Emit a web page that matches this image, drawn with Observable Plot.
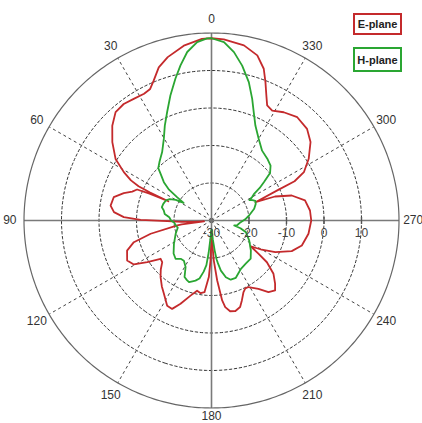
<!DOCTYPE html>
<html><head><meta charset="utf-8">
<script src="https://cdn.jsdelivr.net/npm/d3@7"></script>
<script src="https://cdn.jsdelivr.net/npm/@observablehq/plot@0.6"></script>
<style>
body{margin:0;background:#fff;}
#wrap{position:relative;width:422px;height:423px;overflow:hidden;}
.leg{position:absolute;left:353px;width:49px;border:2px solid;font:bold 11px "Liberation Sans",Arial,sans-serif;color:#222;display:flex;align-items:center;justify-content:center;box-sizing:border-box;background:#fff;}
</style></head><body><div id="wrap"></div>
<script>
// E-plane pattern (angle in degrees, gain in dB)
const eAngle = [0,3,9,15,19,22.4,25,28,32.6,37,41.5,46.3,51.7,57.3,61.1,63.5,64.8,65.5,66,66.6,67.4,70,72.7,76.6,81.6,85.1,87.8,89.5,90.9,92.5,94.5,96,97.5,98.3,102.3,105.6,109.6,115.4,119.5,122.9,126.9,130.2,134,138,143,147,152.5,156,159.6,164.4,168.4,171.5,174.4,177.3,178.6,179.6,180.3,181.2,183.3,185.4,187.6,189,191.6,194.6,198.3,200.8,204.1,206.5,209.1,214.5,218.5,222.3,225.2,229.3,233,234.7,236.7,239.8,243.6,249.1,254.5,262.2,270,275.8,282.1,287.3,290.7,292.6,294.6,295.3,297.6,302.4,308.4,313.8,320.3,326.3,331.1,334.2,336.3,338.7,341,344.5,349.5,356.1,360];
const eDb = [18.6,18.5,17.2,15.1,13.2,10.4,8.7,8.3,8.5,8.9,8.6,6.6,3.7,0.4,-3.3,-6,-8.5,-12,-17.4,-12,-8.5,-7.5,-5.5,-3.2,-2.8,-3.9,-6.6,-11.1,-18.2,-22,-25.5,-28,-22,-20.8,-13.4,-8.5,-6.1,-5.1,-6.2,-9.6,-13,-12.8,-11.2,-9.7,-8,-6.7,-4.4,-4.2,-6.3,-9.2,-10.9,-10.4,-10.8,-14.9,-19.3,-25,-27,-25,-19.3,-14,-8.5,-6.6,-5.3,-5,-5.7,-7.2,-9.1,-9.8,-9.7,-7.9,-5.6,-4.8,-6.1,-8.2,-11.5,-14.6,-17.5,-14.5,-11,-7.1,-5,-3.9,-3.4,-3.6,-4.5,-7.6,-11.9,-17.3,-10.7,-5.5,-2.2,0.7,3.7,5.3,5.8,4.7,3.5,4.1,6.4,9.6,12.8,15.7,17.5,18.4,18.6];
// H-plane pattern
const hAngle = [0,1.4,4.6,8.2,11.3,14.3,18.2,22.3,26.2,30.3,35.8,41.2,45.5,47.5,51.2,54,56,57.6,60,63,66.3,71,75,78.1,82,85.5,90,93,98,102,110.4,121.9,131,136.8,141.2,145.5,150.9,154.5,157.6,160,162.6,165.1,168.3,171.3,173.5,175,176.5,178.5,181.5,184,186,187.5,188.5,190.6,194.2,198,203,207,211.3,218.4,225.7,232.7,242,251.2,255,257.6,260,266.7,272,277.6,285.3,290.6,294,296.5,298.2,300,302.2,304,306.2,309,312.9,317.9,324.1,330.1,335.2,338.7,341.5,344.9,348.8,352.4,356,360];
const hDb = [18.6,18.6,17.7,15.4,12.2,9,5.1,1.2,-1.8,-4.8,-7.5,-9,-10.1,-11.6,-13.7,-16,-19,-21.2,-19,-17.5,-16.7,-16.4,-16.3,-17,-17.4,-18.7,-19.2,-20,-20.4,-20.8,-19.8,-18.2,-16.6,-16,-16.9,-17,-15.8,-13.3,-12.8,-12.5,-13,-13.4,-14.2,-16.2,-18,-21.5,-25,-27.5,-27.5,-25,-22,-19.5,-18.5,-16.4,-14.4,-13.4,-13.4,-14.2,-14.9,-15.3,-15.4,-16.8,-18.6,-20.3,-22,-23.8,-23,-22.2,-21,-19.9,-18.2,-17.4,-17.2,-17.8,-18.5,-17.5,-16.5,-14.5,-12.7,-9.9,-8.5,-7.8,-7,-4.8,-2.1,1,4.2,8.2,12.1,15.3,17.7,18.6];
// grid
const ringDb = [-20, -10, 0, 10];
const tickDb = [-20, -10, 0, 10];
const ringLabelDb = [-30, -20, -10, 0, 10];
const ringLabels = ["-30", "-20", "-10", "0", "10"];
const spokeAngles = [0, 30, 60, 90, 120, 150, 180, 210, 240, 270, 300, 330];
const angleLabels = ["0", "30", "60", "90", "120", "150", "180", "210", "240", "270", "300", "330"];
const axisAngles = [0, 90, 180, 270];
const seriesNames = ["E-plane", "H-plane"];
const seriesColors = ["#c42a2c", "#2aa632"];
const dbMin = -30, dbMax = 20;

const lat = db => 90 - (db - dbMin) / (dbMax - dbMin) * 90;
const lon = a => 180 + a;
const circle = db => d3.geoCircle().center([0, 90]).radius(90 - lat(db)).precision(1)();

const eData = eAngle.map((a, i) => ({a, db: eDb[i]}));
const hData = hAngle.map((a, i) => ({a, db: hDb[i]}));
const angleRows = spokeAngles.map((a, i) => ({a, label: angleLabels[i]}));

const plot = Plot.plot({
  width: 422, height: 423,
  marginLeft: 23.5, marginRight: 23.5, marginTop: 32.5, marginBottom: 15.5,
  style: {fontFamily: "'Liberation Sans', Arial, sans-serif", background: "transparent"},
  projection: {type: "azimuthal-equidistant", rotate: [0, -90], clip: false, domain: d3.geoCircle().center([0, 90]).radius(90)()},
  marks: [
    Plot.geo(ringDb, {geometry: d => circle(d), stroke: "#333", strokeWidth: 1, strokeDasharray: "2.5,2.5", fill: "none"}),
    Plot.link(spokeAngles.filter(a => a % 90 !== 0), {x1: d => lon(d), y1: 90, x2: d => lon(d), y2: lat(dbMax), stroke: "#444", strokeWidth: 1, strokeDasharray: "3,3"}),
    Plot.link(axisAngles, {x1: d => lon(d), y1: 90, x2: d => lon(d), y2: lat(dbMax), stroke: "#7a7a7a", strokeWidth: 1.6}),
    Plot.geo([dbMax], {geometry: d => circle(d), stroke: "#666", strokeWidth: 1.2, fill: "none"}),
    Plot.dot(tickDb, {x: () => lon(270), y: d => lat(d), symbol: {draw(c) { c.moveTo(0, -3.5); c.lineTo(0, 3.5); }}, r: 3, stroke: "#555", strokeWidth: 1.4}),
    Plot.line(eData, {x: d => lon(d.a), y: d => lat(d.db), stroke: seriesColors[0], strokeWidth: 1.8}),
    Plot.line(hData, {x: d => lon(d.a), y: d => lat(d.db), stroke: seriesColors[1], strokeWidth: 1.8}),
    Plot.text(ringLabelDb, {x: () => lon(270), y: d => lat(d), text: (d, i) => ringLabels[i], dy: 13, fill: "#444", fontSize: 12}),
    Plot.text(angleRows.filter(d => d.a !== 180), {x: d => lon(d.a), y: -6.8, text: "label", fill: "#333", fontSize: 12}),
    Plot.text(angleRows.filter(d => d.a === 180), {x: d => lon(d.a), y: -6.8, text: "label", dy: -6, fill: "#333", fontSize: 12})
  ]
});
const wrap = document.getElementById("wrap");
wrap.appendChild(plot);
const tops = [13, 47], heights = [22, 25];
seriesNames.forEach((n, i) => {
  const b = document.createElement("div");
  b.className = "leg";
  b.style.top = tops[i] + "px";
  b.style.height = heights[i] + "px";
  b.style.borderColor = seriesColors[i];
  b.textContent = n;
  wrap.appendChild(b);
});
</script></body></html>
